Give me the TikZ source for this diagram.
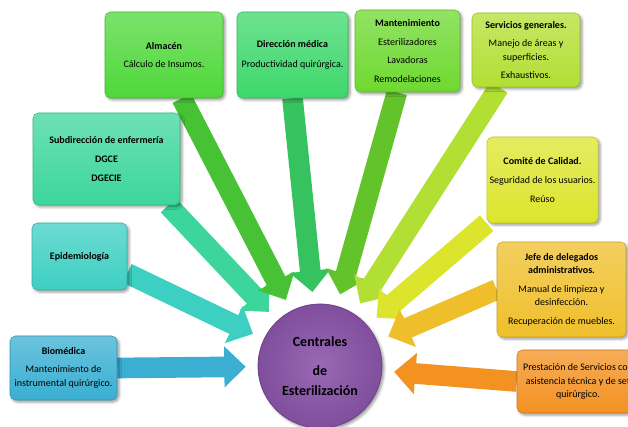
\documentclass[tikz,border=0pt]{standalone}
\usepackage{fontspec}
\setmainfont{Carlito}
\usepackage{tikz}
\usetikzlibrary{arrows.meta,calc,backgrounds,shadows.blur}

\definecolor{cBio}{HTML}{3AAFD2}
\definecolor{cEpi}{HTML}{3DCFC2}
\definecolor{cSub}{HTML}{3CD69C}
\definecolor{cAlm}{HTML}{4FD83A}
\definecolor{cDir}{HTML}{3DD86B}
\definecolor{cMant}{HTML}{6ED930}
\definecolor{cServ}{HTML}{B2DF34}
\definecolor{cCom}{HTML}{DCE52C}
\definecolor{cJefe}{HTML}{EFBF2B}
\definecolor{cPres}{HTML}{F39121}
\definecolor{cCirc}{HTML}{8B55AA}

\tikzset{
  caja/.style={rounded corners=4pt, top color=#1!75!white, bottom color=#1,
    draw=#1!85!black, line width=0.4pt, align=center, inner sep=2pt,
    font=\fontsize{7.5}{10}\selectfont,
    blur shadow={shadow xshift=1.5pt, shadow yshift=-1.5pt, shadow blur steps=4}},
  flecha/.style={draw=#1, line width=15.5pt, -{Triangle[width=30pt,length=16pt]},
    shorten >=9pt},
  circulo/.style={circle, minimum size=93pt, inner sep=0pt,
    inner color=cCirc!88!white, outer color=cCirc!92!black,
    draw=cCirc!75!black, line width=0.5pt, align=center,
    font=\fontsize{10.5}{15}\selectfont\bfseries,
    blur shadow={shadow xshift=1.5pt, shadow yshift=-1.5pt, shadow blur steps=4}},
}

\begin{document}
\begin{tikzpicture}[x=0.75pt,y=-0.75pt]
  \useasboundingbox (0,0) rectangle (628,427);
  \clip (0,0) rectangle (628,427);
  % centro
  \node[circulo] (centrales) at (320,366) {Centrales\\[6.5pt] de\\ Esterilización};
  % cajas de la izquierda
  \node[caja=cBio, minimum width=80.25pt, minimum height=48pt] (bio) at (63.5,368)
    {\textbf{Biomédica}\\[3.5pt] Mantenimiento de\\ instrumental quirúrgico.};
  \node[caja=cEpi, minimum width=71.25pt, minimum height=50.25pt] (epi) at (79.5,256.5)
    {\textbf{Epidemiología}};
  \node[caja=cSub, minimum width=110.25pt, minimum height=69pt] (subdir) at (106.5,159)
    {\textbf{Subdirección de enfermería}\\[4.5pt] \textbf{DGCE}\\[4.5pt] \textbf{DGECIE}};
  % cajas de arriba
  \node[caja=cAlm, minimum width=88.5pt, minimum height=64.5pt] (almacen) at (164,55)
    {\textbf{Almacén}\\[3.5pt] Cálculo  de Insumos.};
  \node[caja=cDir, minimum width=83.25pt, minimum height=64.5pt] (direccion) at (292.5,55)
    {\textbf{Dirección médica}\\[5pt] Productividad quirúrgica.};
  \node[caja=cMant, minimum width=78.75pt, minimum height=61.5pt] (mant) at (407.5,51)
    {\textbf{Mantenimiento}\\[4pt] Esterilizadores\\[4pt] Lavadoras\\[4pt] Remodelaciones};
  \node[caja=cServ, minimum width=81pt, minimum height=55.5pt] (servicios) at (526,50)
    {\textbf{Servicios generales.}\\[4pt] Manejo de áreas y\\ superficies.\\[4pt] Exhaustivos.};
  % cajas de la derecha
  \node[caja=cCom, minimum width=83.25pt, minimum height=64.5pt] (comite) at (542.5,180)
    {\textbf{Comité de Calidad.}\\[4pt] Seguridad de los usuarios.\\[4pt] Reúso};
  \node[caja=cJefe, minimum width=96.75pt, minimum height=71.25pt] (jefe) at (561.5,289.5)
    {\textbf{Jefe de delegados}\\ \textbf{administrativos.}\\[4pt] Manual de limpieza y\\ desinfección.\\[4pt] Recuperación de  muebles.};
  \node[caja=cPres, minimum width=91.5pt, minimum height=47.25pt] (prestacion) at (578,381.5)
    {Prestación de Servicios con\\ asistencia técnica y de set\\ quirúrgico.};
  % flechas hacia el centro
  \begin{scope}[on background layer]
    \draw[flecha=cBio] (bio.east) -- (centrales);
    \draw[flecha=cEpi] ($(epi.east)!0.5!(epi.south east)$) -- (centrales);
    \draw[flecha=cSub] ($(subdir.south east)+(-12,0)$) -- (centrales);
    \draw[flecha=cAlm!90!black] ($(almacen.south west)!0.65!(almacen.south east)$) -- (centrales);
    \draw[flecha=cDir!90!black] (direccion.south) -- (centrales);
    \draw[flecha=cMant!90!black] ($(mant.south west)!0.4!(mant.south east)$) -- (centrales);
    \draw[flecha=cServ] ($(servicios.south west)!0.25!(servicios.south east)$) -- (centrales);
    \draw[flecha=cCom] (comite.south west) -- (centrales);
    \draw[flecha=cJefe] (jefe.west) -- (centrales);
    \draw[flecha=cPres] (prestacion.west) -- (centrales);
  \end{scope}
\end{tikzpicture}
\end{document}
